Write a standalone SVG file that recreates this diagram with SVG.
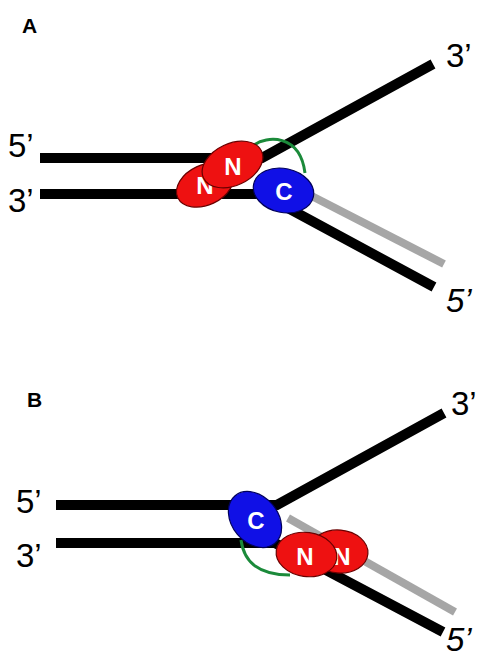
<svg xmlns="http://www.w3.org/2000/svg" width="484" height="659" viewBox="0 0 484 659">
  <style>
    .strand { fill: none; stroke: #000; stroke-width: 10; stroke-linecap: butt; stroke-linejoin: miter; }
    .new { fill: none; stroke: #a6a6a6; stroke-width: 8; stroke-linecap: butt; }
    .linker { fill: none; stroke: #1b8a3a; stroke-width: 3; }
    .n { fill: #ee1111; stroke: #6a0000; stroke-width: 1.2; }
    .c { fill: #1010e6; stroke: #00005a; stroke-width: 1.2; }
    .dom { font-family: "Liberation Sans", Arial, sans-serif; font-weight: bold; font-size: 24px; fill: #fff; text-anchor: middle; }
    .end { font-family: "Liberation Sans", Arial, sans-serif; font-size: 33px; fill: #000; }
    .panel { font-family: "Liberation Sans", Arial, sans-serif; font-weight: bold; font-size: 21px; fill: #000; }
  </style>

  <!-- panel labels -->
  <text class="panel" x="22" y="33">A</text>
  <text class="panel" x="27" y="407">B</text>

  <!-- strand end labels -->
  <g id="labels">
    <text class="end" x="8" y="157">5’</text>
    <text class="end" x="8" y="212">3’</text>
    <text class="end" x="446" y="67">3’</text>
    <text class="end" x="446" y="312" font-style="italic">5’</text>
    <text class="end" x="16" y="513">5’</text>
    <text class="end" x="16" y="567">3’</text>
    <text class="end" x="451" y="415">3’</text>
    <text class="end" x="446" y="651" font-style="italic">5’</text>
  </g>

  <!-- DNA strands and linkers -->
  <g id="connectors">
    <!-- fork A -->
    <polyline class="strand" points="40,158 262,158 433,64"/>
    <polyline class="strand" points="40,194 262,194 434,287"/>
    <line class="new" x1="300" y1="190" x2="444" y2="264"/>
    <path class="linker" d="M254,145 C266,136 300,133 305,173"/>
    <!-- fork B -->
    <polyline class="strand" points="56,505 277,505 444,413"/>
    <polyline class="strand" points="56,543 275,543 443,632"/>
    <line class="new" x1="288" y1="518" x2="455" y2="612"/>
    <path class="linker" d="M241,540 C244,562 258,575 290,575"/>
  </g>

  <!-- fork A protein domains -->
  <g id="a-n-back">
    <ellipse class="n" cx="205" cy="185" rx="30" ry="20" transform="rotate(-25 205 185)"/>
    <text class="dom" x="205" y="194">N</text>
  </g>
  <g id="a-n-front">
    <ellipse class="n" cx="232.5" cy="164.5" rx="32" ry="21" transform="rotate(-25 232.5 164.5)"/>
    <text class="dom" x="233" y="175">N</text>
  </g>
  <g id="a-c">
    <ellipse class="c" cx="283.5" cy="190.5" rx="30.5" ry="22" transform="rotate(12 283.5 190.5)"/>
    <text class="dom" x="284" y="200">C</text>
  </g>

  <!-- fork B protein domains -->
  <g id="b-c">
    <ellipse class="c" cx="255" cy="519.5" rx="31" ry="23" transform="rotate(50 255 519.5)"/>
    <text class="dom" x="256" y="529">C</text>
  </g>
  <g id="b-n-back">
    <ellipse class="n" cx="339" cy="551.5" rx="29" ry="21.5" transform="rotate(5 339 551.5)"/>
    <text class="dom" x="342" y="565">N</text>
  </g>
  <g id="b-n-front">
    <ellipse class="n" cx="306.5" cy="554.5" rx="30.5" ry="22" transform="rotate(8 306.5 554.5)"/>
    <text class="dom" x="305" y="565">N</text>
  </g>
</svg>
